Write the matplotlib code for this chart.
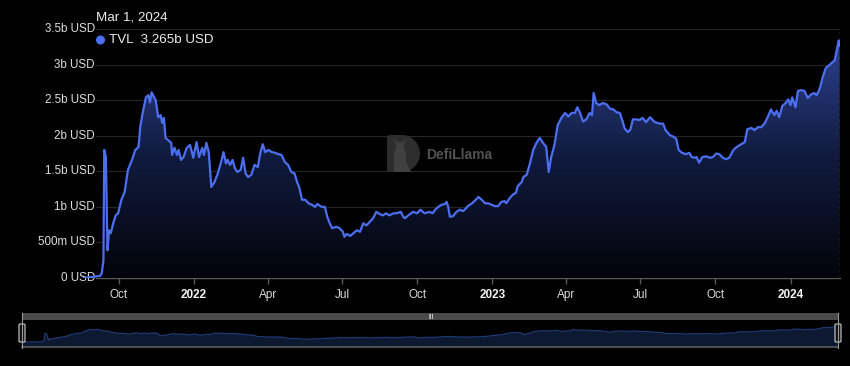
import numpy as np
import pandas as pd
import matplotlib
matplotlib.use("Agg")
import matplotlib.pyplot as plt
import matplotlib.dates as mdates
from matplotlib.colors import LinearSegmentedColormap
from matplotlib.patches import FancyBboxPatch, Rectangle, Ellipse, Polygon

plt.rcParams['font.family'] = ['Liberation Sans', 'DejaVu Sans']

# ---------------- data ----------------
base_date = "2021-09-01"
days = [-14, -5, 7, 9, 11, 12, 14, 16, 18, 20, 23, 26, 29, 33, 37, 41, 46, 50, 54, 56,
        59, 63, 66, 68, 70, 73, 75, 78, 81, 83, 85, 87, 90, 94, 95, 98, 101, 103, 106, 109,
        113, 117, 121, 125, 128, 132, 134, 137, 140, 143, 147, 151, 155, 158, 161, 163, 166, 169, 172, 175,
        179, 182, 185, 188, 192, 196, 200, 203, 206, 209, 213, 217, 221, 225, 229, 233, 237, 241, 245, 248,
        251, 254, 258, 262, 266, 270, 273, 278, 282, 285, 288, 291, 296, 300, 304, 306, 309, 313, 317, 321,
        325, 329, 333, 337, 341, 345, 349, 353, 357, 361, 366, 370, 375, 378, 380, 384, 390, 395, 399, 404,
        410, 414, 417, 421, 425, 429, 431, 433, 435, 439, 443, 447, 451, 454, 457, 461, 465, 470, 474, 478,
        482, 486, 490, 494, 498, 502, 504, 508, 512, 516, 518, 523, 525, 529, 533, 537, 541, 545, 549, 553,
        556, 559, 563, 567, 572, 576, 580, 584, 588, 591, 594, 598, 602, 606, 609, 611, 614, 618, 622, 627,
        631, 635, 639, 643, 646, 649, 653, 656, 659, 663, 667, 671, 675, 680, 686, 692, 696, 699, 704, 708,
        712, 715, 719, 724, 728, 731, 735, 737, 740, 744, 749, 753, 757, 761, 765, 769, 773, 777, 782, 786,
        790, 796, 799, 804, 808, 812, 816, 820, 824, 828, 832, 835, 838, 842, 846, 849, 852, 854, 858, 861,
        865, 869, 873, 877, 881, 884, 888, 891, 895, 898, 902, 906, 909, 911, 912]
tvl_b = [0.00, 0.01, 0.03, 0.07, 0.25, 1.80, 1.70, 0.39, 0.67, 0.63, 0.77, 0.88, 0.91, 1.10, 1.21, 1.52, 1.66, 1.80, 1.84, 2.12,
         2.32, 2.54, 2.57, 2.47, 2.61, 2.54, 2.50, 2.26, 2.29, 2.18, 2.25, 1.97, 1.94, 1.90, 1.73, 1.83, 1.73, 1.80, 1.66, 1.70,
         1.83, 1.87, 1.69, 1.91, 1.70, 1.83, 1.73, 1.90, 1.76, 1.28, 1.35, 1.47, 1.63, 1.77, 1.61, 1.66, 1.59, 1.66, 1.54, 1.49,
         1.52, 1.69, 1.47, 1.42, 1.45, 1.59, 1.56, 1.76, 1.88, 1.77, 1.80, 1.77, 1.76, 1.74, 1.73, 1.63, 1.59, 1.49, 1.47, 1.35,
         1.26, 1.10, 1.10, 1.05, 1.03, 1.00, 1.04, 1.00, 1.00, 0.86, 0.77, 0.70, 0.72, 0.70, 0.65, 0.58, 0.62, 0.59, 0.63, 0.67,
         0.65, 0.77, 0.74, 0.79, 0.84, 0.93, 0.90, 0.88, 0.91, 0.88, 0.91, 0.91, 0.93, 0.86, 0.84, 0.88, 0.93, 0.91, 0.96, 0.91,
         0.93, 0.91, 0.96, 1.00, 1.03, 1.04, 1.07, 1.00, 0.86, 0.87, 0.93, 0.96, 0.94, 0.97, 1.01, 1.04, 1.08, 1.14, 1.10, 1.05,
         1.05, 1.03, 1.01, 1.01, 1.07, 1.08, 1.05, 1.12, 1.17, 1.20, 1.29, 1.35, 1.42, 1.45, 1.61, 1.80, 1.90, 1.97, 1.90, 1.84,
         1.49, 1.70, 1.87, 2.15, 2.26, 2.32, 2.27, 2.32, 2.32, 2.40, 2.33, 2.20, 2.23, 2.32, 2.29, 2.60, 2.46, 2.43, 2.46, 2.44,
         2.38, 2.37, 2.33, 2.32, 2.22, 2.10, 2.05, 2.09, 2.23, 2.23, 2.22, 2.25, 2.19, 2.26, 2.19, 2.17, 2.17, 2.08, 2.01, 1.99,
         1.96, 1.80, 1.76, 1.74, 1.76, 1.70, 1.69, 1.70, 1.62, 1.70, 1.71, 1.69, 1.70, 1.75, 1.74, 1.69, 1.67, 1.69, 1.80, 1.84,
         1.87, 1.91, 2.09, 2.11, 2.08, 2.12, 2.12, 2.17, 2.26, 2.37, 2.29, 2.35, 2.26, 2.42, 2.46, 2.51, 2.43, 2.54, 2.40, 2.63,
         2.64, 2.63, 2.53, 2.58, 2.60, 2.57, 2.67, 2.81, 2.95, 2.98, 3.02, 3.06, 3.23, 3.34, 3.265]

y_ticks = [0, 0.5, 1.0, 1.5, 2.0, 2.5, 3.0, 3.5]
y_tick_labels = ["0 USD", "500m USD", "1b USD", "1.5b USD", "2b USD", "2.5b USD", "3b USD", "3.5b USD"]
x_tick_dates = ["2021-10-01", "2022-01-01", "2022-04-01", "2022-07-01", "2022-10-01",
                "2023-01-01", "2023-04-01", "2023-07-01", "2023-10-01", "2024-01-01"]
x_tick_labels = ["Oct", "2022", "Apr", "Jul", "Oct", "2023", "Apr", "Jul", "Oct", "2024"]
bold_labels = {"2022", "2023", "2024"}
tooltip_date = "Mar 1, 2024"
series_name = "TVL"
tooltip_value = "3.265b USD"

# ---------------- figure ----------------
W, H = 850, 366
fig = plt.figure(figsize=(W / 100, H / 100), dpi=100, facecolor="black")


def fx(px):
    return px / W


def fy(py):
    return 1 - py / H


dates = pd.to_datetime(base_date) + pd.to_timedelta(days, unit="D")
xnum = mdates.date2num(dates)
tvl = np.array(tvl_b)
x0, x1 = xnum[0], xnum[-1]

LINE = "#4b6ff0"

# watermark (behind the plot)
d_pts = [(389, 135), (402, 135)]
for t in np.linspace(-np.pi / 2, np.pi / 2, 30):
    d_pts.append((402 + 18 * np.cos(t), 153.5 + 18.5 * np.sin(t)))
d_pts += [(402, 172), (389, 172), (387, 170), (387, 137)]
fig.patches.append(Polygon([(fx(a), fy(b)) for a, b in d_pts], closed=True,
                           transform=fig.transFigure, facecolor="#2d2d2d", edgecolor="none", zorder=0))
llama = [(394, 172), (394, 152), (396.5, 147), (394.5, 139), (398.5, 142.5), (401.5, 142.5),
         (405.5, 139), (403.5, 147), (406, 152), (406, 161), (411, 172)]
fig.patches.append(Polygon([(fx(a), fy(b)) for a, b in llama], closed=True,
                           transform=fig.transFigure, facecolor="#404040", edgecolor="none", zorder=0))
fig.text(fx(426), fy(155), "DefiLlama", color="#525252", fontsize=10, fontweight="bold",
         va="center", ha="left", zorder=0)

ax = fig.add_axes([fx(83), fy(278), fx(840) - fx(83), fy(29) - fy(278)])
ax.set_facecolor("none")

# gradient fill under the line
cmap = LinearSegmentedColormap.from_list("g", ["#03040a", "#101a3d", "#2d418f"])
grad = np.linspace(0, 1, 256).reshape(-1, 1)
im = ax.imshow(grad, aspect="auto", cmap=cmap, origin="lower",
               extent=[x0, x1, 0, tvl.max()], zorder=2, interpolation="bilinear")
poly = ax.fill_between(xnum, tvl, 0, facecolor="none", edgecolor="none")
im.set_clip_path(poly.get_paths()[0], transform=ax.transData)

ax.plot(xnum, tvl, color=LINE, lw=1.6, zorder=4, solid_joinstyle="round")

ax.set_xlim(x0, x1 + 0.5)
ax.set_ylim(0, 3.5)

ax.set_yticks(y_ticks)
ax.set_yticklabels([])
ax.tick_params(axis="y", length=0)
ax.grid(axis="y", color="#262626", lw=0.8)
ax.set_axisbelow(True)
for s in ["top", "right", "left"]:
    ax.spines[s].set_visible(False)
ax.spines["bottom"].set_color("#5a5a5a")
ax.spines["bottom"].set_linewidth(1.0)
ax.spines["bottom"].set_zorder(1)

ytr = ax.get_yaxis_transform()
lab_x = (95 - 83) / (840 - 83)
for v, lab in zip(y_ticks, y_tick_labels):
    ax.text(lab_x, v, lab, transform=ytr, ha="right", va="center", color="#dcdcdc",
            fontsize=8.4, zorder=1.5, clip_on=False,
            bbox=dict(boxstyle="square,pad=0.1", fc="black", ec="none"))

xt = mdates.date2num(pd.to_datetime(x_tick_dates))
ax.set_xticks(xt)
ax.set_xticklabels(x_tick_labels)
ax.tick_params(axis="x", colors="#5a5a5a", length=4, width=1, pad=4, labelsize=8.5,
               labelcolor="#d8d8d8")
for t in ax.get_xticklabels():
    if t.get_text() in bold_labels:
        t.set_fontweight("bold")
        t.set_color("#f2f2f2")

# tooltip cursor line
ax.axvline(x1, color="#8a8a8a", lw=0.9, ls=(0, (2.5, 2.5)), zorder=5)

# tooltip text
fig.text(fx(96), fy(18), tooltip_date, color="#ececec", fontsize=9.6, va="center", ha="left")
fig.patches.append(Ellipse((fx(100.5), fy(40)), 9 / W, 9 / H, transform=fig.transFigure,
                           facecolor=LINE, edgecolor="none"))
fig.text(fx(109), fy(40), f"{series_name}  {tooltip_value}", color="#ececec", fontsize=9.6,
         va="center", ha="left")

# ---------------- data zoom slider ----------------
fig.patches.append(Rectangle((fx(22), fy(320)), fx(838) - fx(22), fy(313) - fy(320),
                             transform=fig.transFigure, facecolor="#4a4a4a", edgecolor="none"))
fig.text(fx(431), fy(316.5), "|||", color="#e8e8e8", fontsize=4.5, fontweight="bold",
         ha="center", va="center")

mx = fig.add_axes([fx(22), fy(347), fx(838) - fx(22), fy(320) - fy(347)])
mx.set_facecolor("black")
mlo, mhi = -1.03, 4.54
mx.fill_between(xnum, tvl, mlo, color="#0d1930", lw=0)
mx.plot(xnum, tvl, color="#1f3a72", lw=0.9)
mx.set_xlim(x0, x1)
mx.set_ylim(mlo, mhi)
mx.set_xticks([])
mx.set_yticks([])
for s in ["top", "right", "left"]:
    mx.spines[s].set_visible(False)
mx.spines["bottom"].set_color("#5a5a5a")
mx.spines["bottom"].set_linewidth(1.2)

for hx in (22, 838):
    fig.lines.append(plt.Line2D([fx(hx), fx(hx)], [fy(313), fy(348)], transform=fig.transFigure,
                                color="#9a9a9a", lw=0.8))
    fig.patches.append(FancyBboxPatch((fx(hx - 3), fy(342)), fx(6), fy(324) - fy(342),
                                      boxstyle="round,pad=0,rounding_size=0.002",
                                      transform=fig.transFigure, facecolor="#111111",
                                      edgecolor="#d0d0d0", lw=0.8))

fig.savefig("out.png", dpi=100, facecolor="black")
